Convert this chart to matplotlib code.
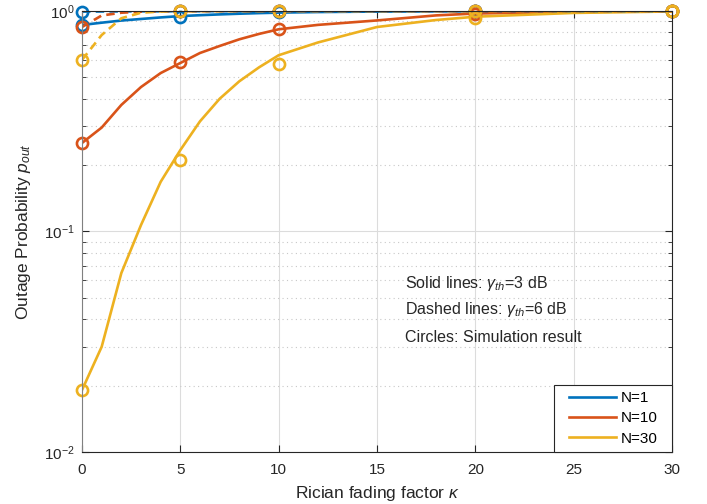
import matplotlib.pyplot as plt
from matplotlib.patches import Rectangle

plt.rcParams['font.family'] = ['Liberation Sans', 'DejaVu Sans']
plt.rcParams['mathtext.fontset'] = 'custom'
plt.rcParams['mathtext.rm'] = 'Liberation Sans'
plt.rcParams['mathtext.it'] = 'Liberation Sans:italic'
plt.rcParams['mathtext.cal'] = 'Liberation Sans:italic'

# Rician factor used for the analytical curves
k_line = [0, 1, 2, 3, 4, 5, 6, 7, 8, 9, 10, 12, 15, 18, 20, 25, 30]
# analytical, gamma_th = 3 dB (solid)
n1_solid = [0.864, 0.885, 0.905, 0.92, 0.935, 0.948, 0.957, 0.965, 0.972, 0.978,
            0.983, 0.989, 0.994, 0.997, 0.998, 0.999, 1.0]
n10_solid = [0.252, 0.296, 0.375, 0.452, 0.523, 0.581, 0.645, 0.694, 0.744, 0.787,
             0.826, 0.865, 0.906, 0.955, 0.974, 0.99, 0.997]
n30_solid = [0.0191, 0.030, 0.0648, 0.107, 0.168, 0.234, 0.316, 0.40, 0.48, 0.555,
             0.63, 0.72, 0.846, 0.91, 0.942, 0.98, 0.995]
# analytical, gamma_th = 6 dB (dashed)
n1_dash = [0.994, 0.995, 0.996, 0.997, 0.997, 0.998, 0.998, 0.999, 0.999, 0.999,
           0.999, 1.0, 1.0, 1.0, 1.0, 1.0, 1.0]
n10_dash = [0.846, 0.954, 0.982, 0.993, 0.997, 0.999, 0.999, 1.0, 1.0, 1.0,
            1.0, 1.0, 1.0, 1.0, 1.0, 1.0, 1.0]
n30_dash = [0.60, 0.778, 0.927, 0.982, 0.995, 0.998, 0.999, 0.999, 1.0, 1.0,
            1.0, 1.0, 1.0, 1.0, 1.0, 1.0, 1.0]

# simulation points
k_sim = [0, 5, 10, 20, 30]
n1_sim_solid = [0.864, 0.942, 0.985, 0.998, 1.0]
n10_sim_solid = [0.252, 0.585, 0.826, 0.97, 0.998]
n30_sim_solid = [0.0191, 0.210, 0.575, 0.93, 0.995]
n1_sim_dash = [0.993, 1.0, 1.0, 1.0, 1.0]
n10_sim_dash = [0.846, 0.998, 1.0, 1.0, 1.0]
n30_sim_dash = [0.60, 0.998, 0.998, 1.0, 1.0]

labels = ['N=1', 'N=10', 'N=30']
colors = ['#0072BD', '#D95319', '#EDB120']

fig = plt.figure(figsize=(7.07, 5.04), dpi=100)
ax = fig.add_axes([0.116, 0.1032, 0.8345, 0.875])

lw = 1.9
solid = [n1_solid, n10_solid, n30_solid]
dashed = [n1_dash, n10_dash, n30_dash]
sim_s = [n1_sim_solid, n10_sim_solid, n30_sim_solid]
sim_d = [n1_sim_dash, n10_sim_dash, n30_sim_dash]

handles = []
for i in range(3):
    h, = ax.plot(k_line, solid[i], color=colors[i], lw=lw, label=labels[i])
    handles.append(h)
for i in range(3):
    ax.plot(k_line, dashed[i], color=colors[i], lw=lw, dashes=(3.2, 2.0))
for i in range(3):
    ax.plot(k_sim, sim_s[i], 'o', color=colors[i], mfc='none', ms=8, mew=1.9,
            clip_on=False)
    ax.plot(k_sim, sim_d[i], 'o', color=colors[i], mfc='none', ms=8, mew=1.9,
            clip_on=False)

ax.set_yscale('log')
ax.set_xlim(0, 30)
ax.set_ylim(1e-2, 1)
ax.set_xticks(range(0, 31, 5))

ax.grid(True, which='major', color='#dcdcdc', lw=0.8, ls='-')
ax.grid(True, which='minor', axis='y', color='#c8c8c8', lw=0.8, ls=(0, (1, 3)))
ax.set_axisbelow(True)
ax.tick_params(which='both', direction='in', top=True, right=True,
               labelsize=11, colors='#262626')
ax.tick_params(which='major', length=5)
ax.tick_params(which='minor', length=3)
ax.tick_params(axis='x', which='major', pad=8)
ax.tick_params(axis='y', which='major', pad=5)
ax.tick_params(axis='x', which='minor', top=False, bottom=False)
for s in ax.spines.values():
    s.set_color('#262626')
    s.set_linewidth(0.8)
ax.spines['left'].set_color('#808080')

ax.set_xlabel(r'Rician fading factor $\kappa$', fontsize=12.5, color='#262626',
              labelpad=5)
ax.set_ylabel(r'Outage Probability $p_{out}$', fontsize=12.5, color='#262626',
              labelpad=8)

txt_kw = dict(transform=ax.transAxes, fontsize=11.5, va='center', color='#262626')
ax.text(0.547, 0.381, r'Solid lines: $\gamma_{th}$=3 dB', **txt_kw)
ax.text(0.547, 0.322, r'Dashed lines: $\gamma_{th}$=6 dB', **txt_kw)
ax.text(0.547, 0.259, 'Circles: Simulation result', **txt_kw)

# legend box drawn as a rectangle so the padding matches the reference
box_x0, box_y0, box_w, box_h = 0.80, 0.0, 0.20, 0.152
ax.add_patch(Rectangle((box_x0, box_y0), box_w, box_h, transform=ax.transAxes,
                       facecolor='white', edgecolor='#262626', lw=0.8,
                       zorder=5, clip_on=False))
leg = ax.legend(handles=handles, loc='center', fontsize=11, frameon=False,
                bbox_to_anchor=(box_x0, box_y0, box_w, box_h),
                bbox_transform=ax.transAxes, borderpad=0.2,
                handlelength=3.1, handletextpad=0.3, labelspacing=0.4)
leg.set_zorder(6)

fig.savefig('out.png', dpi=100)
